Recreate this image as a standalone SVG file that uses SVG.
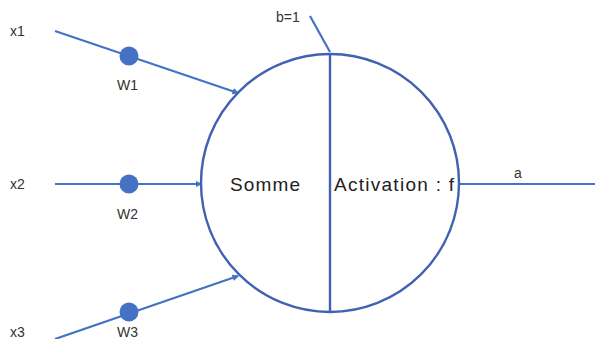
<svg xmlns="http://www.w3.org/2000/svg" width="595" height="339" viewBox="0 0 595 339">
<style>
.ln{stroke:#4472C4;stroke-width:2.2;fill:none}
.dot{fill:#4472C4}
.sm{font-family:"Liberation Sans",Arial,sans-serif;font-size:14px;fill:#333}
.bg{font-family:"Liberation Sans",Arial,sans-serif;font-size:19px;fill:#222}
</style>
<defs>
<marker id="ah" viewBox="0 0 6 6" refX="5" refY="3" markerWidth="3" markerHeight="3" orient="auto"><path d="M0,0L6,3L0,6z" fill="#4472C4"/></marker>
</defs>
<rect width="595" height="339" fill="#fff"/>
<g id="connectors">
<line class="ln" x1="55" y1="31" x2="238" y2="93" marker-end="url(#ah)"/>
<line class="ln" x1="55" y1="184" x2="201" y2="184" marker-end="url(#ah)"/>
<line class="ln" x1="55" y1="339" x2="238" y2="276" marker-end="url(#ah)"/>
<line class="ln" x1="310" y1="16" x2="330" y2="52"/>
<line class="ln" x1="459" y1="184" x2="595" y2="184"/>
</g>
<g id="neuron">
<circle cx="330" cy="183" r="129" fill="none" stroke="#4062B0" stroke-width="2.4"/>
<line x1="330" y1="54" x2="330" y2="312" stroke="#4062B0" stroke-width="2.4"/>
<text class="bg" x="230" y="191" textLength="70">Somme</text>
<text class="bg" x="334" y="191" textLength="120">Activation : f</text>
</g>
<g id="x1"><text class="sm" x="10" y="36">x1</text></g>
<g id="x2"><text class="sm" x="10" y="189">x2</text></g>
<g id="x3"><text class="sm" x="10" y="337">x3</text></g>
<g id="w1"><circle class="dot" cx="129" cy="56" r="9.5"/><text class="sm" x="117" y="90">W1</text></g>
<g id="w2"><circle class="dot" cx="129" cy="184" r="9.5"/><text class="sm" x="117" y="219">W2</text></g>
<g id="w3"><circle class="dot" cx="129" cy="312" r="9.5"/><text class="sm" x="117" y="337">W3</text></g>
<g id="b"><text class="sm" x="276" y="22">b=1</text></g>
<g id="a"><text class="sm" x="514" y="178">a</text></g>
</svg>
